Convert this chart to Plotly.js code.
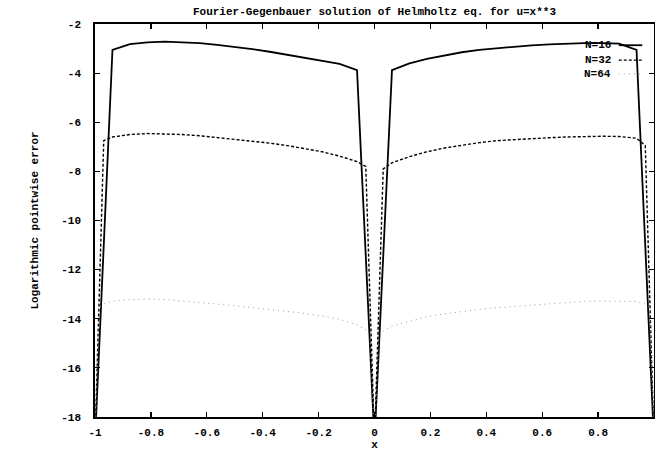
<!DOCTYPE html>
<html>
<head>
<meta charset="utf-8">
<script src="https://cdn.plot.ly/plotly-3.0.1.min.js"></script>
<style>
  html, body { margin: 0; padding: 0; background: #fff; }
  #chart { width: 655px; height: 451px; }
</style>
</head>
<body>
<div id="chart"></div>
<script>
// Pointwise log10 error of the Fourier-Gegenbauer solution, u = x^3.
// Values below the lower plot limit (exact nodes at x = -1, 0, 1) are clipped by the axes.

const x16 = [-1, -0.9375, -0.875, -0.8125, -0.75, -0.6875, -0.625, -0.5625, -0.5,
  -0.4375, -0.375, -0.3125, -0.25, -0.1875, -0.125, -0.0625, 0,
  0.0625, 0.125, 0.1875, 0.25, 0.3125, 0.375, 0.4375, 0.5, 0.5625,
  0.625, 0.6875, 0.75, 0.8125, 0.875, 0.9375, 1];
const err16 = [-19, -3.05, -2.82, -2.75, -2.72, -2.74, -2.78, -2.85, -2.93,
  -3.02, -3.13, -3.25, -3.36, -3.48, -3.62, -3.88, -19,
  -3.88, -3.6, -3.42, -3.27, -3.15, -3.05, -2.98, -2.92, -2.87,
  -2.83, -2.8, -2.78, -2.78, -2.8, -3.05, -19];

const x32 = [-1, -0.96875, -0.9375, -0.875, -0.8125, -0.75, -0.6875, -0.625, -0.5625,
  -0.5, -0.4375, -0.375, -0.3125, -0.25, -0.1875, -0.125, -0.0625, -0.03125, 0,
  0.03125, 0.0625, 0.125, 0.1875, 0.25, 0.3125, 0.375, 0.4375, 0.5,
  0.5625, 0.625, 0.6875, 0.75, 0.8125, 0.875, 0.9375, 0.96875, 1];
const err32 = [-19, -6.75, -6.6, -6.5, -6.46, -6.47, -6.5, -6.55, -6.62,
  -6.69, -6.77, -6.85, -6.95, -7.06, -7.2, -7.38, -7.6, -7.8, -19,
  -7.9, -7.65, -7.4, -7.2, -7.05, -6.93, -6.83, -6.75, -6.7,
  -6.66, -6.63, -6.6, -6.58, -6.57, -6.58, -6.65, -6.95, -19];

const x64 = [-1, -0.984375, -0.96875, -0.9375, -0.875, -0.8125, -0.75, -0.6875, -0.625,
  -0.5625, -0.5, -0.4375, -0.375, -0.3125, -0.25, -0.1875, -0.125, -0.0625,
  -0.03125, -0.015625, 0, 0.015625, 0.03125, 0.0625, 0.125, 0.1875, 0.25,
  0.3125, 0.375, 0.4375, 0.5, 0.5625, 0.625, 0.6875, 0.75, 0.8125, 0.875,
  0.9375, 0.96875, 0.984375, 1];
const err64 = [-19, -13.55, -13.4, -13.28, -13.22, -13.2, -13.22, -13.27, -13.33,
  -13.4, -13.47, -13.54, -13.62, -13.7, -13.78, -13.88, -14.03, -14.25,
  -14.45, -14.75, -19, -14.8, -14.5, -14.3, -14.1, -13.92, -13.8,
  -13.7, -13.62, -13.55, -13.5, -13.43, -13.37, -13.32, -13.29, -13.28, -13.28,
  -13.3, -13.4, -13.55, -19];

const seriesNames = ['N=16', 'N=32', 'N=64'];

const xTickVals = [-1, -0.8, -0.6, -0.4, -0.2, 0, 0.2, 0.4, 0.6, 0.8, 1];
const xTickText = ['-1', '-0.8', '-0.6', '-0.4', '-0.2', '0', '0.2', '0.4', '0.6', '0.8', '1'];
const yTickVals = [-18, -16, -14, -12, -10, -8, -6, -4, -2];
const yTickText = ['-18', '-16', '-14', '-12', '-10', '-8', '-6', '-4', '-2'];

const FONT = 'Liberation Mono, DejaVu Sans Mono, monospace';
const textFont = (w) => ({ family: FONT, size: 11, color: '#000', weight: w });

const styles = [
  { color: '#000', width: 1.8, dash: 'solid' },
  { color: '#000', width: 1.4, dash: '3px,2px' },
  { color: '#9a9a9a', width: 1, dash: '1px,4px' }
];

const traces = [[x16, err16], [x32, err32], [x64, err64]].map((d, i) => ({
  type: 'scatter', mode: 'lines', x: d[0], y: d[1], name: seriesNames[i],
  line: styles[i], showlegend: false, hoverinfo: 'x+y'
}));

// key in the upper-right corner: label text, then a line sample
const keyY = [0.946, 0.908, 0.873];
const annotations = seriesNames.map((n, i) => ({
  xref: 'paper', yref: 'paper', x: 0.926, y: keyY[i], xanchor: 'right', yanchor: 'middle',
  text: n, showarrow: false, font: textFont('bold')
}));
const shapes = seriesNames.map((n, i) => ({
  type: 'line', xref: 'paper', yref: 'paper', x0: 0.937, x1: 0.979, y0: keyY[i], y1: keyY[i],
  line: { color: styles[i].color, width: styles[i].width, dash: styles[i].dash }
}));

const axisCommon = {
  showline: true, linecolor: '#000', linewidth: 1.8, mirror: 'ticks',
  ticks: 'inside', ticklen: 5, tickwidth: 1.2, tickcolor: '#000',
  showgrid: false, zeroline: false, automargin: false,
  tickfont: textFont('bold'), tickmode: 'array'
};

const layout = {
  width: 655, height: 451,
  margin: { l: 95, r: 1, t: 24, b: 34 },
  paper_bgcolor: '#fff', plot_bgcolor: '#fff',
  font: { family: FONT, color: '#000' },
  title: {
    text: 'Fourier-Gegenbauer solution of Helmholtz eq. for u=x**3',
    font: textFont('bold'),
    xref: 'paper', x: 0.5, xanchor: 'center', yref: 'container', y: 0.976, yanchor: 'middle'
  },
  xaxis: Object.assign({}, axisCommon, {
    range: [-1, 1], tickvals: xTickVals, ticktext: xTickText, ticklabelstandoff: 4,
    title: { text: 'x', font: textFont('bold'), standoff: 2 }
  }),
  yaxis: Object.assign({}, axisCommon, {
    range: [-18, -2], tickvals: yTickVals, ticktext: yTickText, ticklabelstandoff: 10,
    title: { text: 'Logarithmic pointwise error', font: textFont('bold'), standoff: 20 }
  }),
  annotations: annotations,
  shapes: shapes
};

Plotly.newPlot('chart', traces, layout, { displayModeBar: false, staticPlot: true });
</script>
</body>
</html>
